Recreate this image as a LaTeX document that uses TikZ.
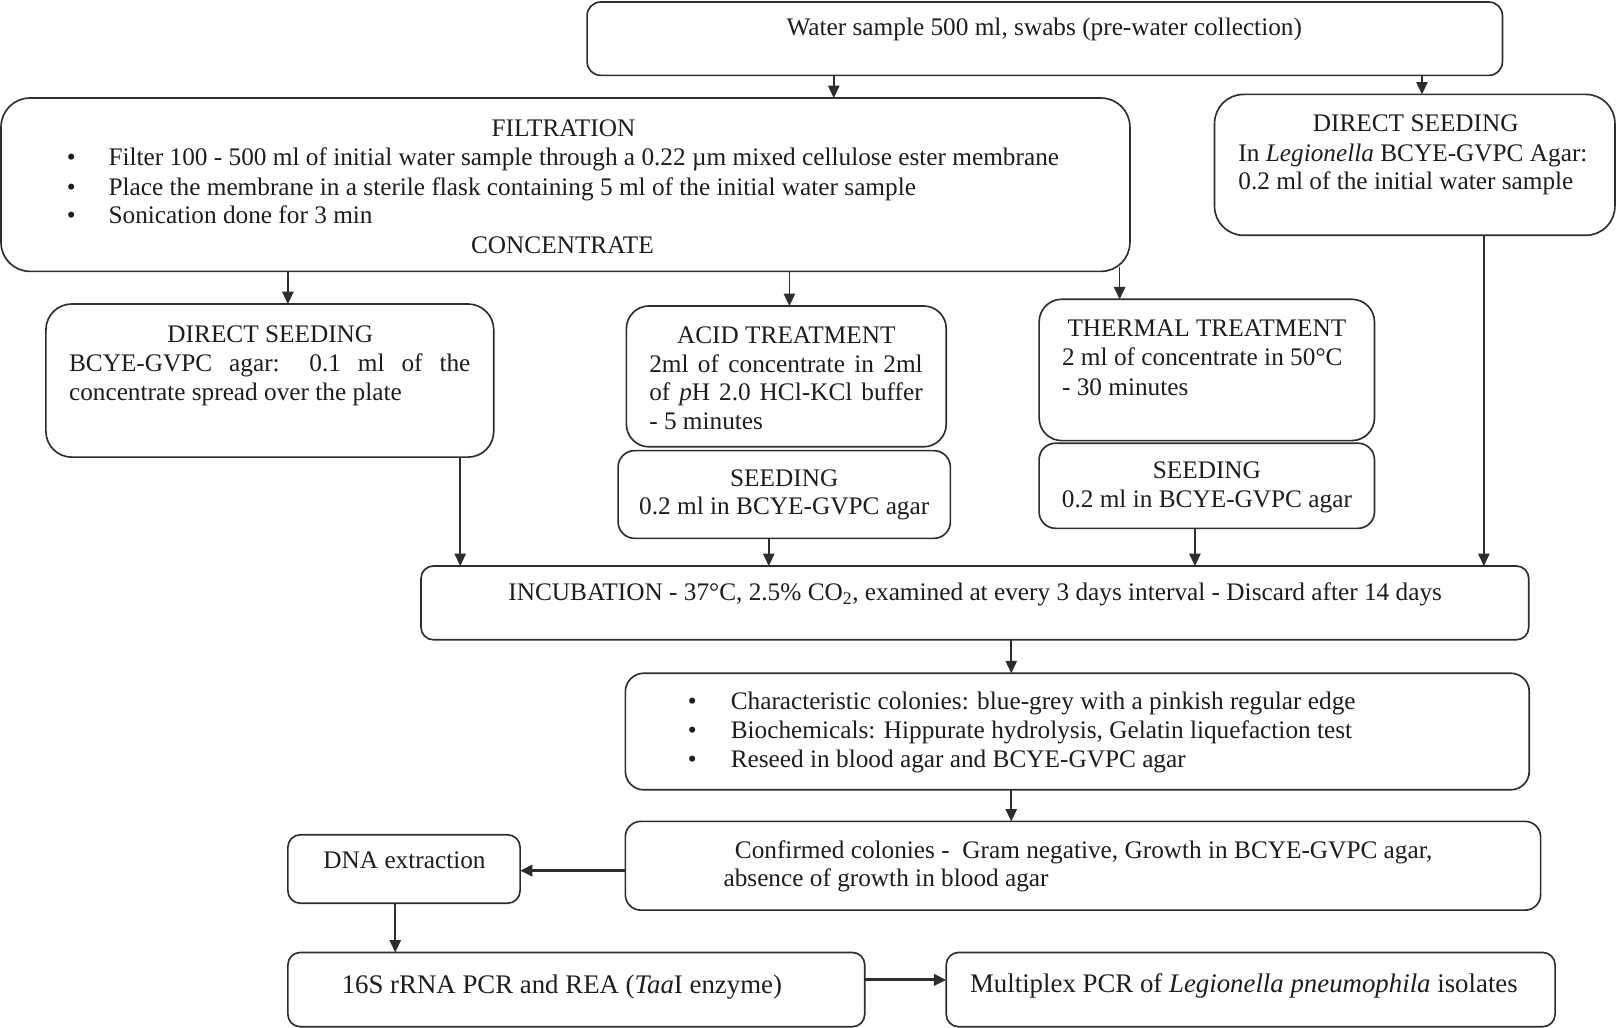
\documentclass[tikz,border=0pt]{standalone}
\usepackage{fontspec}
\setmainfont{Liberation Serif}
\usetikzlibrary{arrows.meta,calc}
\definecolor{ink}{RGB}{30,28,28}
\definecolor{edge}{RGB}{45,45,45}
\begin{document}
\begin{tikzpicture}[x=1pt,y=-1pt,
  box/.style={draw=edge, line width=1.6pt, inner sep=0pt, outer sep=0pt, anchor=north west},
  arr/.style={draw=edge, line width=1.6pt, -{Triangle[length=12pt,width=11pt]}},
  harr/.style={arr, line width=2.8pt},
  txt/.style={inner sep=0pt, anchor=base, text=ink, font=\fontsize{24.5}{28}\selectfont},
  txl/.style={txt, anchor=base west},
  txbig/.style={txt, font=\fontsize{26}{30}\selectfont}]
\useasboundingbox (0,0) rectangle (1568,996);
% boxes
\node[box, rounded corners=13pt, minimum width=887pt, minimum height=71pt] (topb) at (569,2) {};
\node[box, rounded corners=28pt, minimum width=1094pt, minimum height=168pt] (filt) at (1,95) {};
\node[box, rounded corners=28pt, minimum width=388pt, minimum height=136.5pt] (dsR) at (1177,91.5) {};
\node[box, rounded corners=25pt, minimum width=434pt, minimum height=148.4pt] (dsL) at (44.5,294.6) {};
\node[box, rounded corners=22pt, minimum width=310pt, minimum height=136.5pt] (acid) at (607,296.5) {};
\node[box, rounded corners=16pt, minimum width=322pt, minimum height=85pt] (seedA) at (599,436.7) {};
\node[box, rounded corners=22pt, minimum width=325pt, minimum height=137pt] (therm) at (1007,290) {};
\node[box, rounded corners=16pt, minimum width=325pt, minimum height=82.5pt] (seedT) at (1007,429.5) {};
\node[box, rounded corners=12pt, minimum width=1073.5pt, minimum height=71.5pt] (incub) at (408,548.5) {};
\node[box, rounded corners=18pt, minimum width=876pt, minimum height=113pt] (charac) at (606,652.4) {};
\node[box, rounded corners=15pt, minimum width=887pt, minimum height=86pt] (confirm) at (606,796) {};
\node[box, rounded corners=12pt, minimum width=225pt, minimum height=66.3pt] (dna) at (279,809) {};
\node[box, rounded corners=12pt, minimum width=559pt, minimum height=72pt] (rna) at (279,923) {};
\node[box, rounded corners=12pt, minimum width=590pt, minimum height=72pt] (multi) at (917,923) {};
% texts
\node[txt] (t1) at (1012,34) {Water sample 500 ml, swabs (pre-water collection)};
\node[txt] (f0) at (546,132) {FILTRATION};
\node[txt] (fb1) at (69,160) {•};
\node[txl] (f1) at (105,160) {Filter 100 - 500 ml of initial water sample through a 0.22 µm mixed cellulose ester membrane};
\node[txt] (fb2) at (69,189) {•};
\node[txl] (f2) at (105,189) {Place the membrane in a sterile flask containing 5 ml of the initial water sample};
\node[txt] (fb3) at (69,217) {•};
\node[txl] (f3) at (105,217) {Sonication done for 3 min};
\node[txt] (f4) at (545,246) {CONCENTRATE};
\node[txt] (r0) at (1372,127.6) {DIRECT SEEDING};
\node[txl] (r1) at (1200,156.7) {In \textit{Legionella} BCYE-GVPC Agar:};
\node[txl] (r2) at (1200,183.5) {0.2 ml of the initial water sample};
\node[txt] (l0) at (262,332) {DIRECT SEEDING};
\node[txl] (l1) at (66.7,360) {\makebox[389pt][s]{BCYE-GVPC agar: 0.1 ml of the}};
\node[txl] (l2) at (66.7,388) {concentrate spread over the plate};
\node[txt] (a0) at (762,332.6) {ACID TREATMENT};
\node[txl] (a1) at (629,360.7) {\makebox[265pt][s]{2ml of concentrate in 2ml}};
\node[txl] (a2) at (629,388) {\makebox[265pt][s]{of \textit{p}H 2.0 HCl-KCl buffer}};
\node[txl] (a3) at (629,416.7) {- 5 minutes};
\node[txt] (sa0) at (760,471) {SEEDING};
\node[txt] (sa1) at (760,499) {0.2 ml in BCYE-GVPC agar};
\node[txt] (th0) at (1169.6,326) {THERMAL TREATMENT};
\node[txl] (th1) at (1029,354.6) {2 ml of concentrate in 50°C};
\node[txl] (th2) at (1029,382.8) {- 30 minutes};
\node[txt] (st0) at (1169.6,463.5) {SEEDING};
\node[txt] (st1) at (1169.6,491.5) {0.2 ml in BCYE-GVPC agar};
\node[txt] (in0) at (945,582) {INCUBATION - 37°C, 2.5\% CO\textsubscript{2}, examined at every 3 days interval - Discard after 14 days};
\node[txt] (cb1) at (671,688) {•};
\node[txl] (c1) at (708,688) {Characteristic colonies: blue-grey with a pinkish regular edge};
\node[txt] (cb2) at (671,715.4) {•};
\node[txl] (c2) at (708,715.4) {Biochemicals: Hippurate hydrolysis, Gelatin liquefaction test};
\node[txt] (cb3) at (671,743.5) {•};
\node[txl] (c3) at (708,743.5) {Reseed in blood agar and BCYE-GVPC agar};
\node[txl] (k1) at (712,831.6) {Confirmed colonies -\ \ Gram negative, Growth in BCYE-GVPC agar,};
\node[txl] (k2) at (701,859) {absence of growth in blood agar};
\node[txt] (d0) at (392,842) {DNA extraction};
\node[txbig] (n0) at (544.5,962.5) {16S rRNA PCR and REA (\textit{Taa}I enzyme)};
\node[txbig] (m0) at (1205.5,962) {Multiplex PCR of \textit{Legionella pneumophila} isolates};
% connector x positions
\coordinate (xA) at (808,0);
\coordinate (xB) at (1378,0);
\coordinate (xC) at (279,0);
\coordinate (xD) at (765,0);
\coordinate (xE) at (1085,0);
\coordinate (xF) at (446,0);
\coordinate (xG) at (745,0);
\coordinate (xH) at (1158,0);
\coordinate (xI) at (1438,0);
\coordinate (xJ) at (980,0);
\coordinate (xK) at (383,0);
\coordinate (yA) at (0,843.7);
\coordinate (yB) at (0,949.6);
% connectors
\draw[arr] (topb.south -| xA) -- (filt.north -| xA);
\draw[arr] (topb.south -| xB) -- (dsR.north -| xB);
\draw[arr] (filt.south -| xC) -- (dsL.north -| xC);
\draw[arr] (filt.south -| xD) -- (acid.north -| xD);
\draw[arr] ($(filt.south -| xE)+(0,-4)$) -- (therm.north -| xE);
\draw[arr] (dsL.south -| xF) -- (incub.north -| xF);
\draw[arr] (seedA.south -| xG) -- (incub.north -| xG);
\draw[arr] (seedT.south -| xH) -- (incub.north -| xH);
\draw[arr] (dsR.south -| xI) -- (incub.north -| xI);
\draw[arr] (incub.south -| xJ) -- (charac.north -| xJ);
\draw[arr] (charac.south -| xJ) -- (confirm.north -| xJ);
\draw[harr] (confirm.west |- yA) -- (dna.east |- yA);
\draw[arr] (dna.south -| xK) -- (rna.north -| xK);
\draw[harr] (rna.east |- yB) -- (multi.west |- yB);
\end{tikzpicture}
\end{document}
